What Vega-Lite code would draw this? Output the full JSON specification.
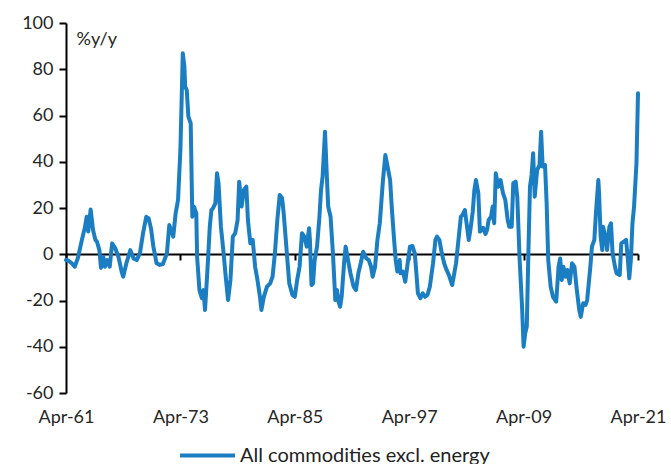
{
  "$schema": "https://vega.github.io/schema/vega-lite/v6.json",
  "width": 572,
  "height": 370,
  "autosize": "none",
  "padding": {"left": 66, "top": 23, "right": 33, "bottom": 71},
  "background": "white",
  "config": {
    "view": {"stroke": null},
    "font": "Lato",
    "axis": {"grid": false, "labelFont": "Lato", "labelColor": "#262626", "labelFontSize": 18, "domainColor": "#000000", "tickColor": "#000000", "domainWidth": 2, "tickWidth": 2}
  },
  "data": {"values": [
    {"date": "1961-04", "value": -2.5, "series": "All commodities excl. energy"},
    {"date": "1961-07", "value": -2.8, "series": "All commodities excl. energy"},
    {"date": "1961-11", "value": -3.8, "series": "All commodities excl. energy"},
    {"date": "1962-03", "value": -5.4, "series": "All commodities excl. energy"},
    {"date": "1962-07", "value": -1.6, "series": "All commodities excl. energy"},
    {"date": "1962-12", "value": 6.2, "series": "All commodities excl. energy"},
    {"date": "1963-04", "value": 11.9, "series": "All commodities excl. energy"},
    {"date": "1963-06", "value": 16.2, "series": "All commodities excl. energy"},
    {"date": "1963-08", "value": 9.8, "series": "All commodities excl. energy"},
    {"date": "1963-11", "value": 19.4, "series": "All commodities excl. energy"},
    {"date": "1964-02", "value": 10.5, "series": "All commodities excl. energy"},
    {"date": "1964-05", "value": 6.2, "series": "All commodities excl. energy"},
    {"date": "1964-07", "value": 5.4, "series": "All commodities excl. energy"},
    {"date": "1964-10", "value": 1.8, "series": "All commodities excl. energy"},
    {"date": "1964-12", "value": -5.9, "series": "All commodities excl. energy"},
    {"date": "1965-03", "value": -1.1, "series": "All commodities excl. energy"},
    {"date": "1965-05", "value": -5.4, "series": "All commodities excl. energy"},
    {"date": "1965-08", "value": -2.5, "series": "All commodities excl. energy"},
    {"date": "1965-11", "value": -5.4, "series": "All commodities excl. energy"},
    {"date": "1966-02", "value": 4.7, "series": "All commodities excl. energy"},
    {"date": "1966-06", "value": 2.6, "series": "All commodities excl. energy"},
    {"date": "1966-10", "value": -1.1, "series": "All commodities excl. energy"},
    {"date": "1967-02", "value": -7.5, "series": "All commodities excl. energy"},
    {"date": "1967-04", "value": -9.7, "series": "All commodities excl. energy"},
    {"date": "1967-08", "value": -3.9, "series": "All commodities excl. energy"},
    {"date": "1968-01", "value": 1.8, "series": "All commodities excl. energy"},
    {"date": "1968-05", "value": -1.8, "series": "All commodities excl. energy"},
    {"date": "1968-09", "value": -2.5, "series": "All commodities excl. energy"},
    {"date": "1969-01", "value": 0.4, "series": "All commodities excl. energy"},
    {"date": "1969-05", "value": 9.1, "series": "All commodities excl. energy"},
    {"date": "1969-09", "value": 16.2, "series": "All commodities excl. energy"},
    {"date": "1969-12", "value": 15.5, "series": "All commodities excl. energy"},
    {"date": "1970-03", "value": 11.2, "series": "All commodities excl. energy"},
    {"date": "1970-06", "value": 3.3, "series": "All commodities excl. energy"},
    {"date": "1970-10", "value": -3.9, "series": "All commodities excl. energy"},
    {"date": "1971-02", "value": -4.6, "series": "All commodities excl. energy"},
    {"date": "1971-06", "value": -4.2, "series": "All commodities excl. energy"},
    {"date": "1971-11", "value": 0.4, "series": "All commodities excl. energy"},
    {"date": "1972-02", "value": 12.6, "series": "All commodities excl. energy"},
    {"date": "1972-05", "value": 9.8, "series": "All commodities excl. energy"},
    {"date": "1972-07", "value": 7.6, "series": "All commodities excl. energy"},
    {"date": "1972-10", "value": 17.7, "series": "All commodities excl. energy"},
    {"date": "1973-01", "value": 23.5, "series": "All commodities excl. energy"},
    {"date": "1973-04", "value": 45.1, "series": "All commodities excl. energy"},
    {"date": "1973-07", "value": 86.9, "series": "All commodities excl. energy"},
    {"date": "1973-09", "value": 81.1, "series": "All commodities excl. energy"},
    {"date": "1973-10", "value": 72.5, "series": "All commodities excl. energy"},
    {"date": "1973-12", "value": 71.0, "series": "All commodities excl. energy"},
    {"date": "1974-02", "value": 59.5, "series": "All commodities excl. energy"},
    {"date": "1974-05", "value": 56.6, "series": "All commodities excl. energy"},
    {"date": "1974-07", "value": 16.2, "series": "All commodities excl. energy"},
    {"date": "1974-09", "value": 20.6, "series": "All commodities excl. energy"},
    {"date": "1974-12", "value": 17.7, "series": "All commodities excl. energy"},
    {"date": "1975-01", "value": -1.1, "series": "All commodities excl. energy"},
    {"date": "1975-04", "value": -15.5, "series": "All commodities excl. energy"},
    {"date": "1975-07", "value": -19.0, "series": "All commodities excl. energy"},
    {"date": "1975-09", "value": -15.5, "series": "All commodities excl. energy"},
    {"date": "1975-11", "value": -24.1, "series": "All commodities excl. energy"},
    {"date": "1976-02", "value": -6.8, "series": "All commodities excl. energy"},
    {"date": "1976-05", "value": 11.9, "series": "All commodities excl. energy"},
    {"date": "1976-07", "value": 19.1, "series": "All commodities excl. energy"},
    {"date": "1976-09", "value": 19.9, "series": "All commodities excl. energy"},
    {"date": "1976-12", "value": 22.0, "series": "All commodities excl. energy"},
    {"date": "1977-02", "value": 35.0, "series": "All commodities excl. energy"},
    {"date": "1977-04", "value": 30.7, "series": "All commodities excl. energy"},
    {"date": "1977-07", "value": 11.9, "series": "All commodities excl. energy"},
    {"date": "1977-10", "value": 1.8, "series": "All commodities excl. energy"},
    {"date": "1978-01", "value": -9.7, "series": "All commodities excl. energy"},
    {"date": "1978-04", "value": -19.8, "series": "All commodities excl. energy"},
    {"date": "1978-07", "value": -11.1, "series": "All commodities excl. energy"},
    {"date": "1978-10", "value": 7.6, "series": "All commodities excl. energy"},
    {"date": "1979-01", "value": 9.1, "series": "All commodities excl. energy"},
    {"date": "1979-04", "value": 14.8, "series": "All commodities excl. energy"},
    {"date": "1979-06", "value": 31.4, "series": "All commodities excl. energy"},
    {"date": "1979-09", "value": 20.6, "series": "All commodities excl. energy"},
    {"date": "1979-12", "value": 27.8, "series": "All commodities excl. energy"},
    {"date": "1980-03", "value": 29.2, "series": "All commodities excl. energy"},
    {"date": "1980-05", "value": 14.8, "series": "All commodities excl. energy"},
    {"date": "1980-08", "value": 4.7, "series": "All commodities excl. energy"},
    {"date": "1980-11", "value": 6.2, "series": "All commodities excl. energy"},
    {"date": "1981-02", "value": -5.4, "series": "All commodities excl. energy"},
    {"date": "1981-05", "value": -11.1, "series": "All commodities excl. energy"},
    {"date": "1981-08", "value": -18.1, "series": "All commodities excl. energy"},
    {"date": "1981-10", "value": -24.1, "series": "All commodities excl. energy"},
    {"date": "1982-01", "value": -18.4, "series": "All commodities excl. energy"},
    {"date": "1982-05", "value": -14.0, "series": "All commodities excl. energy"},
    {"date": "1982-09", "value": -12.6, "series": "All commodities excl. energy"},
    {"date": "1982-12", "value": -9.7, "series": "All commodities excl. energy"},
    {"date": "1983-03", "value": 0.4, "series": "All commodities excl. energy"},
    {"date": "1983-06", "value": 14.8, "series": "All commodities excl. energy"},
    {"date": "1983-09", "value": 25.6, "series": "All commodities excl. energy"},
    {"date": "1983-12", "value": 24.2, "series": "All commodities excl. energy"},
    {"date": "1984-02", "value": 17.7, "series": "All commodities excl. energy"},
    {"date": "1984-06", "value": 0.4, "series": "All commodities excl. energy"},
    {"date": "1984-09", "value": -12.6, "series": "All commodities excl. energy"},
    {"date": "1985-01", "value": -17.6, "series": "All commodities excl. energy"},
    {"date": "1985-04", "value": -18.4, "series": "All commodities excl. energy"},
    {"date": "1985-07", "value": -11.1, "series": "All commodities excl. energy"},
    {"date": "1985-10", "value": -5.4, "series": "All commodities excl. energy"},
    {"date": "1986-01", "value": 9.1, "series": "All commodities excl. energy"},
    {"date": "1986-04", "value": 7.6, "series": "All commodities excl. energy"},
    {"date": "1986-07", "value": 3.3, "series": "All commodities excl. energy"},
    {"date": "1986-10", "value": 11.2, "series": "All commodities excl. energy"},
    {"date": "1986-11", "value": 6.2, "series": "All commodities excl. energy"},
    {"date": "1987-01", "value": -13.3, "series": "All commodities excl. energy"},
    {"date": "1987-03", "value": -12.6, "series": "All commodities excl. energy"},
    {"date": "1987-05", "value": -2.5, "series": "All commodities excl. energy"},
    {"date": "1987-08", "value": 3.3, "series": "All commodities excl. energy"},
    {"date": "1987-11", "value": 16.2, "series": "All commodities excl. energy"},
    {"date": "1988-01", "value": 27.8, "series": "All commodities excl. energy"},
    {"date": "1988-03", "value": 33.5, "series": "All commodities excl. energy"},
    {"date": "1988-06", "value": 53.0, "series": "All commodities excl. energy"},
    {"date": "1988-08", "value": 36.4, "series": "All commodities excl. energy"},
    {"date": "1988-10", "value": 20.6, "series": "All commodities excl. energy"},
    {"date": "1989-01", "value": 16.2, "series": "All commodities excl. energy"},
    {"date": "1989-04", "value": 0.4, "series": "All commodities excl. energy"},
    {"date": "1989-07", "value": -19.8, "series": "All commodities excl. energy"},
    {"date": "1989-09", "value": -15.5, "series": "All commodities excl. energy"},
    {"date": "1989-11", "value": -20.5, "series": "All commodities excl. energy"},
    {"date": "1990-01", "value": -22.7, "series": "All commodities excl. energy"},
    {"date": "1990-03", "value": -18.4, "series": "All commodities excl. energy"},
    {"date": "1990-06", "value": -3.9, "series": "All commodities excl. energy"},
    {"date": "1990-08", "value": 3.3, "series": "All commodities excl. energy"},
    {"date": "1990-11", "value": -2.5, "series": "All commodities excl. energy"},
    {"date": "1991-02", "value": -8.2, "series": "All commodities excl. energy"},
    {"date": "1991-06", "value": -14.0, "series": "All commodities excl. energy"},
    {"date": "1991-09", "value": -15.5, "series": "All commodities excl. energy"},
    {"date": "1991-12", "value": -8.2, "series": "All commodities excl. energy"},
    {"date": "1992-03", "value": -3.9, "series": "All commodities excl. energy"},
    {"date": "1992-06", "value": 1.1, "series": "All commodities excl. energy"},
    {"date": "1992-10", "value": -1.8, "series": "All commodities excl. energy"},
    {"date": "1993-01", "value": -2.5, "series": "All commodities excl. energy"},
    {"date": "1993-04", "value": -5.4, "series": "All commodities excl. energy"},
    {"date": "1993-06", "value": -9.7, "series": "All commodities excl. energy"},
    {"date": "1993-09", "value": -5.4, "series": "All commodities excl. energy"},
    {"date": "1993-12", "value": 6.2, "series": "All commodities excl. energy"},
    {"date": "1994-03", "value": 13.4, "series": "All commodities excl. energy"},
    {"date": "1994-07", "value": 32.1, "series": "All commodities excl. energy"},
    {"date": "1994-10", "value": 42.9, "series": "All commodities excl. energy"},
    {"date": "1994-12", "value": 39.3, "series": "All commodities excl. energy"},
    {"date": "1995-04", "value": 32.1, "series": "All commodities excl. energy"},
    {"date": "1995-06", "value": 20.6, "series": "All commodities excl. energy"},
    {"date": "1995-09", "value": 6.2, "series": "All commodities excl. energy"},
    {"date": "1995-11", "value": -2.5, "series": "All commodities excl. energy"},
    {"date": "1996-01", "value": -7.5, "series": "All commodities excl. energy"},
    {"date": "1996-04", "value": -2.5, "series": "All commodities excl. energy"},
    {"date": "1996-05", "value": -8.2, "series": "All commodities excl. energy"},
    {"date": "1996-08", "value": -7.5, "series": "All commodities excl. energy"},
    {"date": "1996-11", "value": -11.9, "series": "All commodities excl. energy"},
    {"date": "1997-02", "value": -3.9, "series": "All commodities excl. energy"},
    {"date": "1997-05", "value": 3.3, "series": "All commodities excl. energy"},
    {"date": "1997-08", "value": 3.6, "series": "All commodities excl. energy"},
    {"date": "1997-11", "value": 0.4, "series": "All commodities excl. energy"},
    {"date": "1998-01", "value": -8.2, "series": "All commodities excl. energy"},
    {"date": "1998-03", "value": -16.9, "series": "All commodities excl. energy"},
    {"date": "1998-06", "value": -19.0, "series": "All commodities excl. energy"},
    {"date": "1998-09", "value": -16.9, "series": "All commodities excl. energy"},
    {"date": "1998-12", "value": -18.4, "series": "All commodities excl. energy"},
    {"date": "1999-03", "value": -17.6, "series": "All commodities excl. energy"},
    {"date": "1999-06", "value": -14.0, "series": "All commodities excl. energy"},
    {"date": "1999-10", "value": -3.9, "series": "All commodities excl. energy"},
    {"date": "2000-01", "value": 6.2, "series": "All commodities excl. energy"},
    {"date": "2000-03", "value": 7.6, "series": "All commodities excl. energy"},
    {"date": "2000-06", "value": 6.2, "series": "All commodities excl. energy"},
    {"date": "2000-09", "value": 0.4, "series": "All commodities excl. energy"},
    {"date": "2000-12", "value": -3.9, "series": "All commodities excl. energy"},
    {"date": "2001-03", "value": -6.8, "series": "All commodities excl. energy"},
    {"date": "2001-06", "value": -9.0, "series": "All commodities excl. energy"},
    {"date": "2001-10", "value": -13.3, "series": "All commodities excl. energy"},
    {"date": "2001-12", "value": -9.7, "series": "All commodities excl. energy"},
    {"date": "2002-03", "value": -3.9, "series": "All commodities excl. energy"},
    {"date": "2002-06", "value": 6.2, "series": "All commodities excl. energy"},
    {"date": "2002-09", "value": 16.2, "series": "All commodities excl. energy"},
    {"date": "2002-11", "value": 17.0, "series": "All commodities excl. energy"},
    {"date": "2003-02", "value": 19.1, "series": "All commodities excl. energy"},
    {"date": "2003-04", "value": 14.1, "series": "All commodities excl. energy"},
    {"date": "2003-07", "value": 6.2, "series": "All commodities excl. energy"},
    {"date": "2003-09", "value": 10.5, "series": "All commodities excl. energy"},
    {"date": "2003-12", "value": 18.4, "series": "All commodities excl. energy"},
    {"date": "2004-02", "value": 27.8, "series": "All commodities excl. energy"},
    {"date": "2004-04", "value": 32.1, "series": "All commodities excl. energy"},
    {"date": "2004-07", "value": 26.4, "series": "All commodities excl. energy"},
    {"date": "2004-09", "value": 9.8, "series": "All commodities excl. energy"},
    {"date": "2005-01", "value": 11.4, "series": "All commodities excl. energy"},
    {"date": "2005-04", "value": 8.8, "series": "All commodities excl. energy"},
    {"date": "2005-06", "value": 10.5, "series": "All commodities excl. energy"},
    {"date": "2005-08", "value": 14.8, "series": "All commodities excl. energy"},
    {"date": "2005-11", "value": 16.2, "series": "All commodities excl. energy"},
    {"date": "2006-01", "value": 20.6, "series": "All commodities excl. energy"},
    {"date": "2006-03", "value": 13.4, "series": "All commodities excl. energy"},
    {"date": "2006-05", "value": 35.0, "series": "All commodities excl. energy"},
    {"date": "2006-08", "value": 29.2, "series": "All commodities excl. energy"},
    {"date": "2006-11", "value": 32.1, "series": "All commodities excl. energy"},
    {"date": "2007-02", "value": 26.4, "series": "All commodities excl. energy"},
    {"date": "2007-05", "value": 23.5, "series": "All commodities excl. energy"},
    {"date": "2007-08", "value": 14.8, "series": "All commodities excl. energy"},
    {"date": "2007-10", "value": 11.9, "series": "All commodities excl. energy"},
    {"date": "2008-01", "value": 11.9, "series": "All commodities excl. energy"},
    {"date": "2008-03", "value": 30.7, "series": "All commodities excl. energy"},
    {"date": "2008-06", "value": 31.4, "series": "All commodities excl. energy"},
    {"date": "2008-08", "value": 24.9, "series": "All commodities excl. energy"},
    {"date": "2008-11", "value": -2.5, "series": "All commodities excl. energy"},
    {"date": "2009-02", "value": -22.7, "series": "All commodities excl. energy"},
    {"date": "2009-04", "value": -40.0, "series": "All commodities excl. energy"},
    {"date": "2009-06", "value": -34.2, "series": "All commodities excl. energy"},
    {"date": "2009-08", "value": -31.3, "series": "All commodities excl. energy"},
    {"date": "2009-10", "value": 0.4, "series": "All commodities excl. energy"},
    {"date": "2009-12", "value": 29.2, "series": "All commodities excl. energy"},
    {"date": "2010-02", "value": 34.3, "series": "All commodities excl. energy"},
    {"date": "2010-04", "value": 43.7, "series": "All commodities excl. energy"},
    {"date": "2010-06", "value": 24.9, "series": "All commodities excl. energy"},
    {"date": "2010-09", "value": 36.4, "series": "All commodities excl. energy"},
    {"date": "2010-12", "value": 38.6, "series": "All commodities excl. energy"},
    {"date": "2011-02", "value": 53.0, "series": "All commodities excl. energy"},
    {"date": "2011-04", "value": 37.9, "series": "All commodities excl. energy"},
    {"date": "2011-07", "value": 38.6, "series": "All commodities excl. energy"},
    {"date": "2011-09", "value": 22.0, "series": "All commodities excl. energy"},
    {"date": "2011-11", "value": -2.5, "series": "All commodities excl. energy"},
    {"date": "2012-02", "value": -14.0, "series": "All commodities excl. energy"},
    {"date": "2012-05", "value": -18.4, "series": "All commodities excl. energy"},
    {"date": "2012-09", "value": -20.5, "series": "All commodities excl. energy"},
    {"date": "2012-12", "value": -5.4, "series": "All commodities excl. energy"},
    {"date": "2013-02", "value": -1.8, "series": "All commodities excl. energy"},
    {"date": "2013-04", "value": -11.1, "series": "All commodities excl. energy"},
    {"date": "2013-06", "value": -5.4, "series": "All commodities excl. energy"},
    {"date": "2013-09", "value": -9.7, "series": "All commodities excl. energy"},
    {"date": "2013-11", "value": -6.8, "series": "All commodities excl. energy"},
    {"date": "2014-02", "value": -12.6, "series": "All commodities excl. energy"},
    {"date": "2014-05", "value": -3.9, "series": "All commodities excl. energy"},
    {"date": "2014-08", "value": -5.4, "series": "All commodities excl. energy"},
    {"date": "2014-11", "value": -15.5, "series": "All commodities excl. energy"},
    {"date": "2015-02", "value": -24.1, "series": "All commodities excl. energy"},
    {"date": "2015-04", "value": -27.1, "series": "All commodities excl. energy"},
    {"date": "2015-07", "value": -21.2, "series": "All commodities excl. energy"},
    {"date": "2015-10", "value": -21.9, "series": "All commodities excl. energy"},
    {"date": "2015-12", "value": -19.8, "series": "All commodities excl. energy"},
    {"date": "2016-04", "value": -5.4, "series": "All commodities excl. energy"},
    {"date": "2016-06", "value": 3.3, "series": "All commodities excl. energy"},
    {"date": "2016-09", "value": 6.2, "series": "All commodities excl. energy"},
    {"date": "2016-11", "value": 17.7, "series": "All commodities excl. energy"},
    {"date": "2017-02", "value": 32.1, "series": "All commodities excl. energy"},
    {"date": "2017-03", "value": 26.4, "series": "All commodities excl. energy"},
    {"date": "2017-05", "value": 7.6, "series": "All commodities excl. energy"},
    {"date": "2017-07", "value": 1.8, "series": "All commodities excl. energy"},
    {"date": "2017-08", "value": 11.9, "series": "All commodities excl. energy"},
    {"date": "2017-11", "value": 7.6, "series": "All commodities excl. energy"},
    {"date": "2018-01", "value": 1.8, "series": "All commodities excl. energy"},
    {"date": "2018-04", "value": 11.9, "series": "All commodities excl. energy"},
    {"date": "2018-06", "value": 13.4, "series": "All commodities excl. energy"},
    {"date": "2018-08", "value": 0.4, "series": "All commodities excl. energy"},
    {"date": "2018-11", "value": -5.4, "series": "All commodities excl. energy"},
    {"date": "2019-01", "value": -8.2, "series": "All commodities excl. energy"},
    {"date": "2019-05", "value": -9.0, "series": "All commodities excl. energy"},
    {"date": "2019-07", "value": 4.7, "series": "All commodities excl. energy"},
    {"date": "2019-10", "value": 5.4, "series": "All commodities excl. energy"},
    {"date": "2020-01", "value": 6.2, "series": "All commodities excl. energy"},
    {"date": "2020-03", "value": -1.1, "series": "All commodities excl. energy"},
    {"date": "2020-05", "value": -10.4, "series": "All commodities excl. energy"},
    {"date": "2020-07", "value": -2.5, "series": "All commodities excl. energy"},
    {"date": "2020-09", "value": 13.4, "series": "All commodities excl. energy"},
    {"date": "2020-11", "value": 20.6, "series": "All commodities excl. energy"},
    {"date": "2021-02", "value": 39.3, "series": "All commodities excl. energy"},
    {"date": "2021-04", "value": 69.6, "series": "All commodities excl. energy"}
  ]},
  "mark": {"type": "line", "strokeWidth": 4, "strokeJoin": "round", "strokeCap": "round", "clip": false},
  "encoding": {
    "x": {
      "field": "date", "type": "temporal",
      "scale": {"domain": ["1961-04-01T00:00:00", "2021-04-01T00:00:00"]},
      "axis": {
        "title": null,
        "values": ["1961-04-01T00:00:00", "1973-04-01T00:00:00", "1985-04-01T00:00:00", "1997-04-01T00:00:00", "2009-04-01T00:00:00", "2021-04-01T00:00:00"],
        "format": "%b-%y",
        "offset": -139,
        "tickSize": 6,
        "labelPadding": 148,
        "labelBaseline": "top",
        "labelFlush": false
      }
    },
    "y": {
      "field": "value", "type": "quantitative",
      "scale": {"domain": [-60, 100], "nice": false, "zero": false},
      "axis": {
        "title": "%y/y",
        "titleAngle": 0,
        "titleAlign": "left",
        "titleBaseline": "middle",
        "titleX": 10,
        "titleY": 16,
        "titleFont": "Lato",
        "titleFontSize": 18,
        "titleFontWeight": "normal",
        "titleColor": "#262626",
        "values": [-60, -40, -20, 0, 20, 40, 60, 80, 100],
        "labelExpr": "toString(datum.value)",
        "tickSize": 7,
        "labelPadding": 6
      }
    },
    "color": {
      "field": "series", "type": "nominal",
      "scale": {"range": ["#1b7ec2"]},
      "legend": {
        "title": null,
        "orient": "none",
        "legendX": 112,
        "legendY": 403,
        "symbolType": "stroke",
        "symbolSize": 3025,
        "symbolStrokeWidth": 4,
        "labelFont": "Lato",
        "labelFontSize": 20,
        "labelColor": "#222222",
        "labelOffset": 3,
        "labelLimit": 0
      }
    }
  }
}
